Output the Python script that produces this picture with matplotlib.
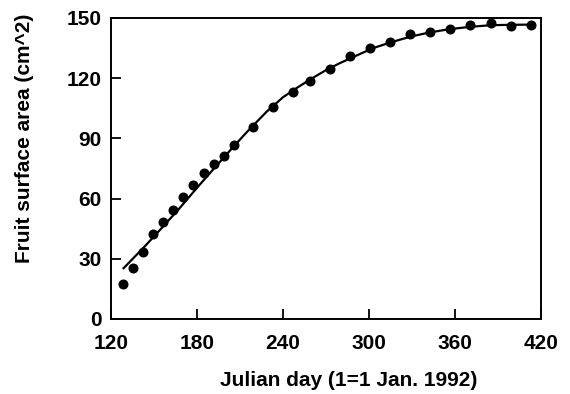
import matplotlib
matplotlib.use("Agg")
import matplotlib.pyplot as plt

# observed data points
obs_day = [128.6, 135.6, 142.5, 149.5, 156.5, 163.5, 170.4, 177.4, 184.9, 191.9,
           198.8, 205.8, 219.3, 232.8, 246.8, 258.8, 272.8, 286.7, 300.7, 314.7,
           328.6, 342.6, 356.5, 370.5, 385.1, 399.1, 413.0]
obs_area = [17.4, 25.4, 33.5, 42.2, 48.2, 54.3, 60.6, 66.8, 72.6, 77.1,
            81.4, 86.7, 95.8, 105.8, 113.3, 118.7, 124.6, 131.0, 134.9, 138.2,
            141.8, 142.8, 144.3, 146.5, 147.3, 146.1, 146.3]

# fitted curve
fit_day = [128.8, 144, 155.6, 167, 182, 195, 205, 215, 228.6, 240, 250, 260,
           270, 280, 292, 303, 315, 329, 343, 357, 371, 385, 400, 414]
fit_area = [25.3, 36.5, 45.5, 54.5, 67.0, 77.5, 85.5, 93.3, 103.3, 110.5, 115.3, 119.8,
            124.0, 127.6, 131.5, 135.0, 137.8, 140.7, 142.9, 144.5, 145.6, 146.4, 146.6, 146.7]

x_ticks = [120, 180, 240, 300, 360, 420]
y_ticks = [0, 30, 60, 90, 120, 150]

plt.rcParams['font.family'] = ['Liberation Sans', 'DejaVu Sans']
plt.rcParams['font.weight'] = 'bold'

fig = plt.figure(figsize=(5.7, 3.94), dpi=100)
ax = fig.add_axes([0.1947, 0.1904, 0.7544, 0.764])

ax.plot(fit_day, fit_area, color='black', lw=1.6, zorder=2)
ax.plot(obs_day, obs_area, 'o', color='black', ms=6.2, zorder=3)

ax.set_xlim(120, 420)
ax.set_ylim(0, 150)
ax.set_xticks(x_ticks)
ax.set_yticks(y_ticks)
ax.set_xticklabels([str(v) for v in x_ticks], fontsize=15, fontweight='bold')
ax.set_yticklabels([str(v) for v in y_ticks], fontsize=15, fontweight='bold')
ax.tick_params(axis='both', direction='in', length=7, width=1.3)
ax.tick_params(axis='x', pad=11)
ax.tick_params(axis='y', pad=7)
for s in ax.spines.values():
    s.set_linewidth(1.4)

ax.set_xlabel('Julian day (1=1 Jan. 1992)', fontsize=15, fontweight='bold')
ax.set_ylabel('Fruit surface area (cm^2)', fontsize=15, fontweight='bold')
ax.xaxis.set_label_coords(0.553, -0.203)
ax.yaxis.set_label_coords(-0.2, 0.60)
ax.xaxis.label.set_va('center')
ax.yaxis.label.set_va('center')

fig.savefig('out.png', dpi=100)
